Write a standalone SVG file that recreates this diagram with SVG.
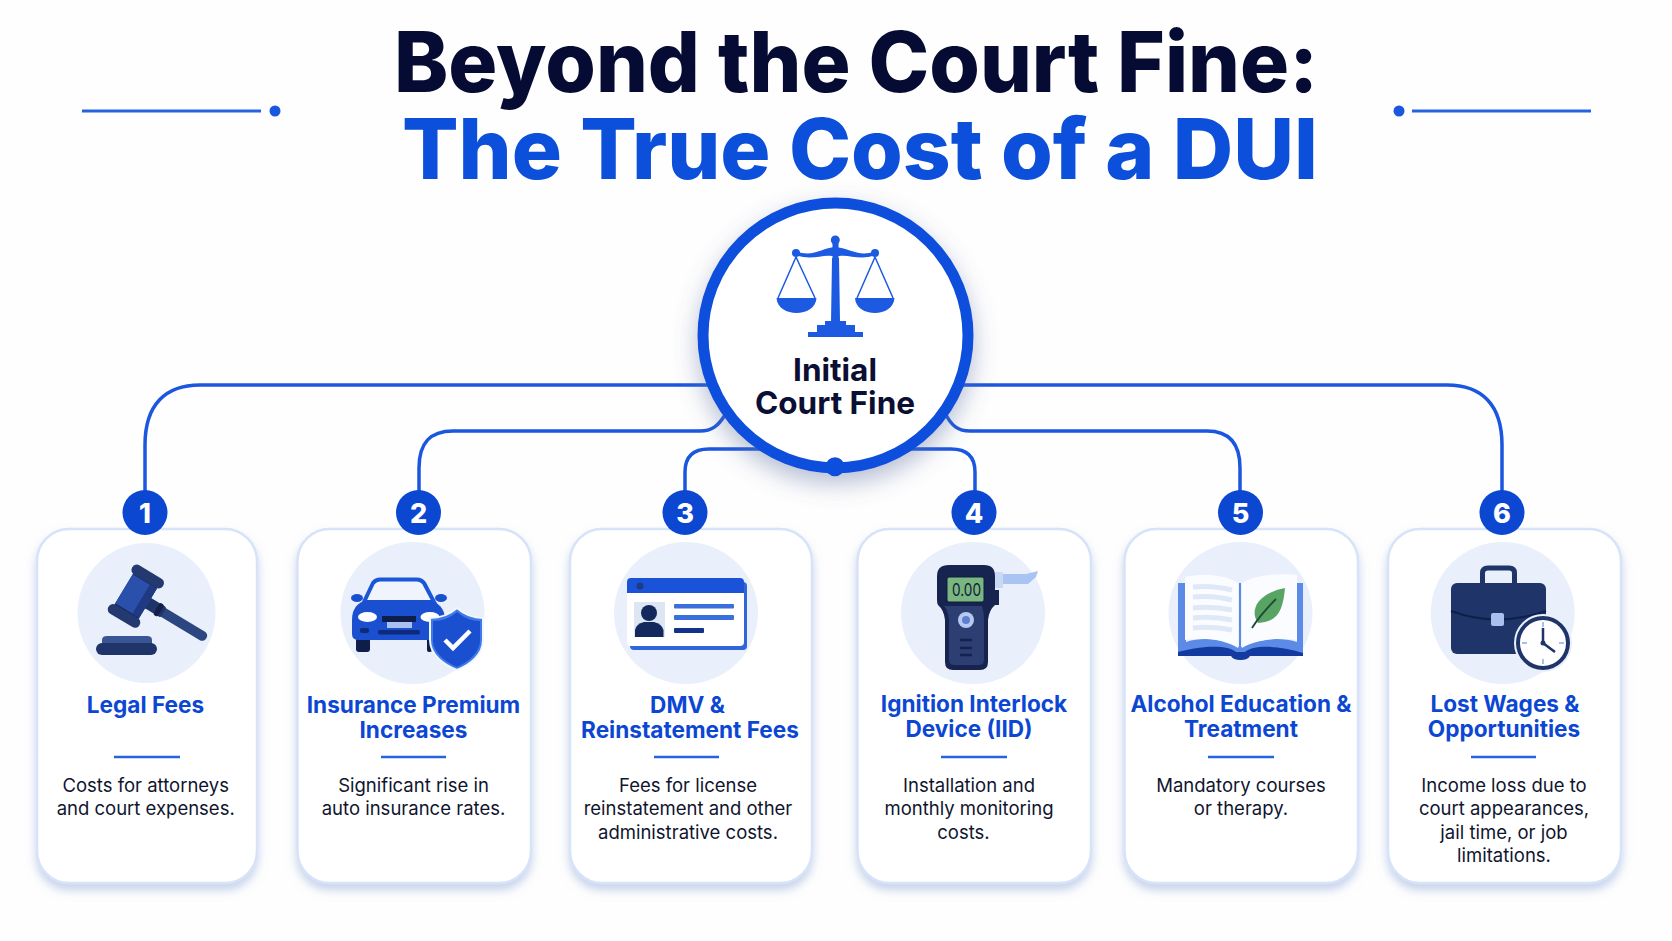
<svg xmlns="http://www.w3.org/2000/svg" width="1672" height="941" viewBox="0 0 1672 941">
<style>
text{font-family:"Inter","Liberation Sans",sans-serif;text-anchor:middle}
.h1{font-size:84px;font-weight:800;fill:#050b33}
.h2{font-size:84px;font-weight:800;fill:#0b4fdb}
.ct{font-size:31.5px;font-weight:700;fill:#0a0f33}
.t{font-size:22.6px;font-weight:700;fill:#0c47d4}
.d{font-size:18.5px;font-weight:400;fill:#10152e}
.n{font-size:27px;font-weight:800;fill:#fff}
.card{fill:#fff;stroke:#d7e3f8;stroke-width:2.5;filter:url(#cs)}
.disc{fill:#e9f0fb}
.div{stroke:#2563e0;stroke-width:2.5}
.badge{fill:#0b47d1}
.conn{fill:none;stroke:#1a56e0;stroke-width:3.5}
.rule{stroke:#2563e0;stroke-width:3}
.navy{fill:#1f3468}
</style>
<defs>
<filter id="cs" x="-15%" y="-10%" width="130%" height="125%"><feDropShadow dx="0" dy="6" stdDeviation="5" flood-color="#8ea8d8" flood-opacity=".5"/></filter>
<filter id="hs" x="-20%" y="-20%" width="140%" height="150%"><feDropShadow dx="0" dy="10" stdDeviation="12" flood-color="#5a6f9f" flood-opacity=".45"/></filter>
</defs>
<rect width="1672" height="941" fill="#fefefe"/>
<g id="title">
<text class="h1" x="856" y="91.500" textLength="924" lengthAdjust="spacingAndGlyphs">Beyond the Court Fine:</text>
<text class="h2" x="860" y="178.500" textLength="916" lengthAdjust="spacingAndGlyphs">The True Cost of a DUI</text>
<line class="rule" x1="82" y1="111" x2="261" y2="111"/><circle cx="275" cy="111" r="5.500" fill="#1a56e0"/>
<line class="rule" x1="1412" y1="111" x2="1591" y2="111"/><circle cx="1399" cy="111" r="5.500" fill="#1a56e0"/>
</g>
<g id="connectors">
<path class="conn" d="M710 385H200C165 385 145 405 145 445V495"/>
<path class="conn" d="M962 385H1447C1482 385 1502 405 1502 445V495"/>
<path class="conn" d="M725 415C718 426 712 431 700 431H453C430 431 419 443 419 468V495"/>
<path class="conn" d="M946 415C952 426 958 431 970 431H1207C1229 431 1240 443 1240 468V495"/>
<path class="conn" d="M762 449H709C694 449 685 456 685 472V495"/>
<path class="conn" d="M910 449H951C966 449 975 456 975 472V495"/>
</g>
<g id="center">
<circle cx="835.500" cy="335.500" r="132.500" fill="#fff" stroke="#0d4fdc" stroke-width="11" filter="url(#hs)"/>
<circle cx="835" cy="466.700" r="9.500" fill="#0d4fdc"/>
<g fill="#1c5ae2">
<circle cx="835.300" cy="240" r="4.500"/><path d="M832 258H839L840 322H831Z"/>
<path d="M796 251C812 258 822 248 835 247C849 248 860 258 875 251V255C860 261 849 254 839 256H832C822 254 812 261 796 255Z"/>
<circle cx="796" cy="253" r="4"/><circle cx="875" cy="253" r="4"/><rect x="832.500" y="243" width="6" height="16"/>
<path d="M776.500 298H816.500C816 308 806 313 796.500 313C787 313 777 308 776.500 298Z"/>
<path d="M855 298H894.500C894 308 884 313 875 313C865 313 855.500 308 855 298Z"/>
<path d="M825 325V321H846V325H855V332H863V337H808V332H817V325Z"/>
</g>
<path d="M796 257L778 298M796 257L815 298M875 257L857 298M875 257L893 298" fill="none" stroke="#1c5ae2" stroke-width="1.500"/>
<text class="ct" x="835" y="381">Initial</text>
<text class="ct" x="835" y="413.500">Court Fine</text>
</g>
<g id="card1">
<rect class="card" x="37" y="529" width="220" height="354" rx="32"/>
<ellipse class="disc" cx="146.500" cy="613" rx="69" ry="70"/>
<g transform="translate(136 596) rotate(31)">
<rect x="12" y="-5" width="70" height="10" rx="4.500" fill="#2b4680"/><rect x="12" y="-6" width="20" height="12" rx="2" fill="#1f3468"/><rect x="24" y="-7" width="5" height="14" rx="2" fill="#141f48"/>
<rect x="-14" y="-19" width="28" height="38" fill="#16295c"/><rect x="-14" y="-17" width="28" height="34" fill="#2a50ac"/><rect x="6" y="-17" width="8" height="34" fill="#1f3a82"/>
<rect x="-18" y="-28" width="36" height="10.500" rx="5" fill="#24396f"/><rect x="-18" y="18" width="36" height="10.500" rx="5" fill="#24396f"/>
</g>
<path d="M102 645V640Q102 636 107 636H147Q152 636 152 640V645Z" fill="#3a5596"/>
<rect x="96" y="643" width="61" height="12" rx="6" fill="#1f3468"/>
<text class="t" x="145.500" y="713">Legal Fees</text>
<line class="div" x1="114" y1="757" x2="180" y2="757"/>
<text class="d" x="145.700" y="792">Costs for attorneys</text><text class="d" x="145.700" y="815">and court expenses.</text>
</g>
<g id="card2">
<rect class="card" x="297.500" y="529" width="233.500" height="354" rx="32"/>
<ellipse class="disc" cx="412.500" cy="613" rx="72" ry="71"/>
<path d="M364 602L373 583Q376 579.500 380 579.500H417Q421 579.500 424 583L434 602Z" fill="#f0f5fd" stroke="#1a56d8" stroke-width="4"/>
<ellipse cx="357" cy="598" rx="6" ry="4" fill="#1a4fd0"/><ellipse cx="441" cy="598" rx="6" ry="4" fill="#1a4fd0"/>
<rect x="356" y="638" width="14" height="14" rx="3" fill="#0e1d4a"/><rect x="427" y="638" width="5" height="14" rx="2" fill="#0e1d4a"/>
<path d="M352 620C352 608 358 602 368 600H428C438 602 445 608 445 620V634Q445 640 438 640H359Q352 640 352 634Z" fill="#1a4fd0"/>
<ellipse cx="367.500" cy="617" rx="9.500" ry="5" fill="#fff"/><ellipse cx="430" cy="617" rx="9.500" ry="5" fill="#fff"/>
<rect x="382" y="616" width="34" height="6" fill="#0e1d4a"/><rect x="387" y="622" width="25" height="6" fill="#a9c0f0"/>
<rect x="378" y="630" width="42" height="4.500" rx="2" fill="#0e2a78"/><rect x="360" y="628" width="9" height="5" rx="2" fill="#0e2a78"/>
<path d="M457 608C465 615 474 618 483 618V640C483 655 470 665 457 670C444 665 430 655 430 640V618C440 618 449 615 457 608Z" fill="#3f7be8" stroke="#f2f6fd" stroke-width="2"/>
<path d="M457 612C464 618 472 621 480 621V640C480 653 468 662 457 667C446 662 433 653 433 640V621C442 621 450 618 457 612Z" fill="#1a4fd0"/>
<path d="M445 640L453 648L470 631" fill="none" stroke="#fff" stroke-width="4.500"/>
<text class="t" x="413.500" y="713">Insurance Premium</text><text class="t" x="413.500" y="738">Increases</text>
<line class="div" x1="381" y1="757" x2="446" y2="757"/>
<text class="d" x="413.500" y="792">Significant rise in</text><text class="d" x="413.500" y="815">auto insurance rates.</text>
</g>
<g id="card3">
<rect class="card" x="570" y="529" width="242" height="354" rx="32"/>
<ellipse class="disc" cx="686" cy="613" rx="72" ry="71"/>
<rect x="630" y="582" width="117" height="68" rx="4" fill="#2f66d8"/>
<rect x="627" y="578" width="117" height="68" rx="4" fill="#fff"/>
<path d="M627 593V582Q627 578 631 578H740Q744 578 744 582V593Z" fill="#1a52d8"/><circle cx="640" cy="586" r="3.500" fill="#1e3a8a"/>
<rect x="634" y="602" width="31" height="35" fill="#dde6f3"/>
<circle cx="649" cy="613" r="8" fill="#13285c"/><path d="M635 637V630Q636 624 644 622H654Q662 624 663.500 630V637Z" fill="#13285c"/>
<rect x="674" y="604" width="60" height="4.500" rx="1" fill="#3b6fdc"/><rect x="674" y="615" width="60" height="5" rx="1" fill="#3b6fdc"/><rect x="674" y="628" width="30" height="5" rx="1" fill="#13338a"/>
<text class="t" x="687.500" y="713">DMV &amp;</text><text class="t" x="690" y="738">Reinstatement Fees</text>
<line class="div" x1="654" y1="757" x2="719" y2="757"/>
<text class="d" x="688" y="792">Fees for license</text><text class="d" x="688" y="815">reinstatement and other</text><text class="d" x="688" y="839">administrative costs.</text>
</g>
<g id="card4">
<rect class="card" x="857.500" y="529" width="233.500" height="354" rx="32"/>
<ellipse class="disc" cx="973" cy="613" rx="72" ry="71"/>
<path d="M1003 574H1026L1038 571L1036 577L1028 584H1003Z" fill="#a9c4f2"/><rect x="995" y="572" width="8" height="16" rx="1" fill="#c9d9f5"/>
<path d="M949 565H984Q995 565 995 576V590H999V605H995Q989 610 988 620V662Q988 670 980 670H953Q945 670 945 662V620Q944 610 938 605Q937 603 937 600V576Q937 565 949 565Z" fill="#16244f"/>
<path d="M951 606H982Q984 612 984 620V660Q984 665 979 665H954Q949 665 949 660V620Q949 612 944 606Z" fill="#2c3e72"/>
<rect x="947" y="577" width="37" height="25" rx="2" fill="#7ab67f" stroke="#101c3e" stroke-width="1"/>
<text x="966.500" y="595.500" textLength="29" lengthAdjust="spacingAndGlyphs" style="font-size:17px;fill:#10203a">0.00</text>
<circle cx="966" cy="620" r="8" fill="#b7c9ee"/><circle cx="966" cy="620" r="4" fill="#5b80d0"/>
<path d="M960 640H972M960 648H972M960 655H972" stroke="#14234d" stroke-width="2.500"/>
<text class="t" x="974" y="712">Ignition Interlock</text><text class="t" x="969" y="737">Device (IID)</text>
<line class="div" x1="941" y1="757" x2="1007" y2="757"/>
<text class="d" x="969" y="792">Installation and</text><text class="d" x="969" y="815">monthly monitoring</text><text class="d" x="963.500" y="839">costs.</text>
</g>
<g id="card5">
<rect class="card" x="1124.500" y="529" width="233.500" height="354" rx="32"/>
<ellipse class="disc" cx="1240.500" cy="613" rx="72" ry="71"/>
<path d="M1178 583H1186V642C1205 636 1228 640 1240 648C1253 640 1277 636 1297 642V583H1303V654H1178Z" fill="#5b8be6"/>
<path d="M1185 577C1205 573 1225 575 1238 583V648C1225 640 1205 637 1185 640Z" fill="#fbfcff"/>
<path d="M1242 583C1255 575 1277 573 1297 575V640C1277 637 1255 640 1242 648Z" fill="#fbfcff"/>
<path d="M1240 583V648" stroke="#5b8be6" stroke-width="2"/>
<path d="M1193 587Q1212 585 1232 590M1193 597Q1212 595 1232 600M1193 608Q1212 606 1232 610M1193 618Q1212 616 1232 620M1193 628Q1212 626 1232 630" fill="none" stroke="#dfe8f7" stroke-width="5"/>
<path d="M1285 588C1283 610 1278 622 1258 623C1250 612 1255 594 1285 588Z" fill="#57a463"/><path d="M1252 628C1260 615 1268 607 1276 599" fill="none" stroke="#1f4a38" stroke-width="1.800"/>
<path d="M1178 652C1205 645 1228 645 1236 652H1245C1253 645 1277 645 1303 653V656H1250Q1248 660 1240.500 660Q1233 660 1231 656H1178Z" fill="#133a9e"/>
<text class="t" x="1241" y="712">Alcohol Education &amp;</text><text class="t" x="1241" y="737">Treatment</text>
<line class="div" x1="1208" y1="757" x2="1274" y2="757"/>
<text class="d" x="1241" y="792">Mandatory courses</text><text class="d" x="1241" y="815">or therapy.</text>
</g>
<g id="card6">
<rect class="card" x="1388" y="529" width="233" height="354" rx="32"/>
<ellipse class="disc" cx="1502.700" cy="613" rx="72" ry="71"/>
<path d="M1482.500 585V573Q1482.500 568 1488 568H1509Q1514.500 568 1514.500 573V585" fill="none" stroke="#1f3468" stroke-width="5"/>
<rect class="navy" x="1451" y="583" width="95" height="71" rx="6"/>
<path d="M1451 611Q1497 628 1546 611" fill="none" stroke="#101f4a" stroke-width="2"/>
<rect x="1491" y="613" width="13" height="13" rx="2" fill="#a9c0ee"/>
<circle cx="1543" cy="643" r="28" fill="#fff" stroke="#e9f0fb" stroke-width="2"/>
<circle cx="1543" cy="643" r="25" fill="#fff" stroke="#1f3468" stroke-width="4"/>
<path d="M1543 622V627M1543 659V664M1522 643H1527M1559 643H1564" stroke="#a9c0ee" stroke-width="2"/>
<path d="M1543 628V643L1555 652" fill="none" stroke="#1f3468" stroke-width="2.500"/><circle cx="1543" cy="643" r="2.500" fill="#1f3468"/>
<text class="t" x="1505" y="712">Lost Wages &amp;</text><text class="t" x="1504" y="737">Opportunities</text>
<line class="div" x1="1471" y1="757" x2="1536" y2="757"/>
<text class="d" x="1504" y="792">Income loss due to</text><text class="d" x="1504" y="815">court appearances,</text><text class="d" x="1504" y="839">jail time, or job</text><text class="d" x="1504" y="862">limitations.</text>
</g>
<g id="badges">
<circle class="badge" cx="145" cy="512.500" r="22.500"/><text class="n" x="145" y="523">1</text>
<circle class="badge" cx="418.500" cy="512.500" r="22.500"/><text class="n" x="418.500" y="523">2</text>
<circle class="badge" cx="685" cy="512.500" r="22.500"/><text class="n" x="685" y="523">3</text>
<circle class="badge" cx="974" cy="512.500" r="22.500"/><text class="n" x="974" y="523">4</text>
<circle class="badge" cx="1240.500" cy="512.500" r="22.500"/><text class="n" x="1240.500" y="523">5</text>
<circle class="badge" cx="1502" cy="512.500" r="22.500"/><text class="n" x="1502" y="523">6</text>
</g>
</svg>
